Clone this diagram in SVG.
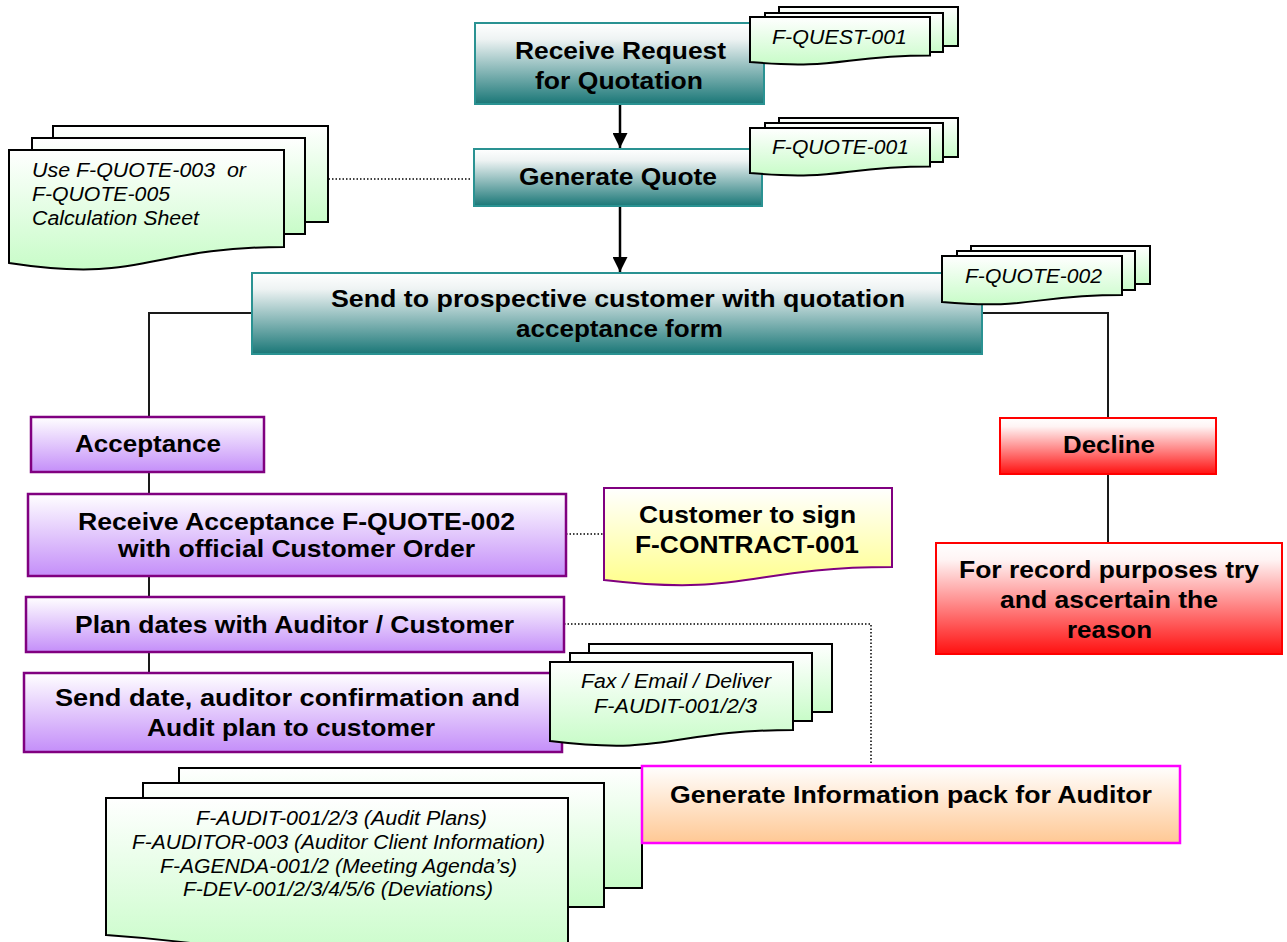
<svg xmlns="http://www.w3.org/2000/svg" width="1287" height="942" viewBox="0 0 1287 942">
<defs>
<linearGradient id="gTeal" x1="0" y1="0" x2="0" y2="1"><stop offset="0" stop-color="#ffffff"/><stop offset="0.2" stop-color="#eef3f3"/><stop offset="1" stop-color="#1a7777"/></linearGradient>
<linearGradient id="gPurple" x1="0" y1="0" x2="0" y2="1"><stop offset="0" stop-color="#ffffff"/><stop offset="1" stop-color="#c48ef9"/></linearGradient>
<linearGradient id="gGreen" x1="0" y1="0" x2="0" y2="1"><stop offset="0" stop-color="#ffffff"/><stop offset="1" stop-color="#c8fcc8"/></linearGradient>
<linearGradient id="gYellow" x1="0" y1="0" x2="0" y2="1"><stop offset="0" stop-color="#ffffff"/><stop offset="1" stop-color="#ffff8c"/></linearGradient>
<linearGradient id="gRed" x1="0" y1="0" x2="0" y2="1"><stop offset="0" stop-color="#ffffff"/><stop offset="0.15" stop-color="#fff4f4"/><stop offset="1" stop-color="#ff1010"/></linearGradient>
<linearGradient id="gPeach" x1="0" y1="0" x2="0" y2="1"><stop offset="0" stop-color="#ffffff"/><stop offset="1" stop-color="#ffc894"/></linearGradient>
<clipPath id="clipSend"><rect x="24" y="673" width="538" height="68"/></clipPath>
<marker id="arr" viewBox="0 0 10 10" refX="10" refY="5" markerWidth="15" markerHeight="15" markerUnits="userSpaceOnUse" orient="auto"><path d="M0,0 L10,5 L0,10 Z" fill="#000"/></marker>
</defs>
<style>
.teal{fill:url(#gTeal);stroke:#2a9292;stroke-width:2}
.purp{fill:url(#gPurple);stroke:#800080;stroke-width:2.5}
.red{fill:url(#gRed);stroke:#ff0000;stroke-width:2}
.peach{fill:url(#gPeach);stroke:#ff00ff;stroke-width:2.5}
.doc{fill:url(#gGreen);stroke:#000;stroke-width:2}
.ydoc{fill:url(#gYellow);stroke:#800080;stroke-width:2}
.b{font-family:"Liberation Sans",Arial,sans-serif;font-weight:bold;font-size:24px;fill:#000}
.i{font-family:"Liberation Sans",Arial,sans-serif;font-style:italic;font-size:19.5px;fill:#000;white-space:pre}
.ln{fill:none;stroke:#1a1a1a;stroke-width:2}
.dot{fill:none;stroke:#000;stroke-width:1.5;stroke-dasharray:1.5 2}
.ar{fill:none;stroke:#000;stroke-width:2.5}
</style>

<g id="connectors">
<line class="ar" x1="620" y1="104" x2="620" y2="148" marker-end="url(#arr)"/>
<line class="ar" x1="620" y1="206" x2="620" y2="272" marker-end="url(#arr)"/>
<polyline class="ln" points="252,313 149,313 149,417"/>
<polyline class="ln" points="982,313 1108,313 1108,418"/>
<line class="ln" x1="1108" y1="474" x2="1108" y2="543"/>
<line class="ln" x1="149" y1="472" x2="149" y2="494"/>
<line class="ln" x1="149" y1="576" x2="149" y2="597"/>
<line class="ln" x1="149" y1="652" x2="149" y2="673"/>
<line class="dot" x1="325" y1="179" x2="470" y2="179"/>
<line class="dot" x1="566" y1="534" x2="604" y2="534"/>
<polyline class="dot" points="564,624 871,624 871,766"/>
</g>

<g id="n-receive-request">
<rect class="teal" x="475" y="23" width="289" height="81"/>
<text class="b" x="515" y="59" textLength="211" lengthAdjust="spacingAndGlyphs">Receive Request</text>
<text class="b" x="535" y="89" textLength="168" lengthAdjust="spacingAndGlyphs">for Quotation</text>
</g>
<g id="d-quest-001">
<rect class="doc" x="779" y="7" width="179" height="39"/>
<rect class="doc" x="765" y="13" width="178" height="39"/>
<path class="doc" d="M750,17 H930 V55.5 C840,55.5 840,70 750,62 Z"/>
<text class="i" x="772" y="44" textLength="135" lengthAdjust="spacingAndGlyphs">F-QUEST-001</text>
</g>

<g id="n-generate-quote">
<rect class="teal" x="474" y="149" width="288" height="57"/>
<text class="b" x="519" y="185" textLength="198" lengthAdjust="spacingAndGlyphs">Generate Quote</text>
</g>
<g id="d-quote-001">
<rect class="doc" x="779" y="118" width="179" height="39"/>
<rect class="doc" x="765" y="123" width="178" height="39"/>
<path class="doc" d="M750,128 H930 V166.5 C840,166.5 840,181 750,173 Z"/>
<text class="i" x="772" y="154" textLength="137" lengthAdjust="spacingAndGlyphs">F-QUOTE-001</text>
</g>

<g id="d-calc-sheet">
<rect class="doc" x="53" y="126" width="275" height="96"/>
<rect class="doc" x="32" y="138" width="273" height="96"/>
<path class="doc" d="M9,150 H284 V247 C146,247 146,284 9,263 Z"/>
<text class="i" x="32" y="177" textLength="214" lengthAdjust="spacingAndGlyphs">Use F-QUOTE-003  or</text>
<text class="i" x="32" y="201" textLength="138" lengthAdjust="spacingAndGlyphs">F-QUOTE-005</text>
<text class="i" x="32" y="225" textLength="167" lengthAdjust="spacingAndGlyphs">Calculation Sheet</text>
</g>

<g id="n-send-prospective">
<rect class="teal" x="252" y="273" width="730" height="81"/>
<text class="b" x="331" y="307" textLength="574" lengthAdjust="spacingAndGlyphs">Send to prospective customer with quotation</text>
<text class="b" x="516" y="337" textLength="207" lengthAdjust="spacingAndGlyphs">acceptance form</text>
</g>
<g id="d-quote-002">
<rect class="doc" x="971" y="246" width="179" height="38"/>
<rect class="doc" x="957" y="251" width="178" height="39"/>
<path class="doc" d="M942,256 H1122 V295 C1032,295 1032,310 942,302 Z"/>
<text class="i" x="965" y="283" textLength="137" lengthAdjust="spacingAndGlyphs">F-QUOTE-002</text>
</g>

<g id="n-acceptance">
<rect class="purp" x="31" y="417" width="233" height="55"/>
<text class="b" x="75" y="452" textLength="146" lengthAdjust="spacingAndGlyphs">Acceptance</text>
</g>

<g id="n-receive-acceptance">
<rect class="purp" x="28" y="494" width="538" height="82"/>
<text class="b" x="78" y="530" textLength="437" lengthAdjust="spacingAndGlyphs">Receive Acceptance F-QUOTE-002</text>
<text class="b" x="118" y="557" textLength="357" lengthAdjust="spacingAndGlyphs">with official Customer Order</text>
</g>

<g id="d-contract">
<path class="ydoc" d="M604,488 H892 V567 C748,567 748,597 604,580 Z"/>
<text class="b" x="639" y="523" textLength="217" lengthAdjust="spacingAndGlyphs">Customer to sign</text>
<text class="b" x="635" y="553" textLength="224" lengthAdjust="spacingAndGlyphs">F-CONTRACT-001</text>
</g>

<g id="n-plan-dates">
<rect class="purp" x="26" y="597" width="538" height="55"/>
<text class="b" x="75" y="633" textLength="439" lengthAdjust="spacingAndGlyphs">Plan dates with Auditor / Customer</text>
</g>

<g id="n-send-date">
<rect class="purp" x="24" y="673" width="538" height="79"/>
<g clip-path="url(#clipSend)">
<text class="b" x="55" y="706" textLength="465" lengthAdjust="spacingAndGlyphs">Send date, auditor confirmation and</text>
<text class="b" x="147" y="736" textLength="288" lengthAdjust="spacingAndGlyphs">Audit plan to customer</text>
</g>
</g>
<g id="d-fax">
<rect class="doc" x="589" y="644" width="243" height="68"/>
<rect class="doc" x="570" y="653" width="242" height="68"/>
<path class="doc" d="M550,662 H793 V730 C671,730 671,756 550,741 Z"/>
<text class="i" x="581" y="688" textLength="190" lengthAdjust="spacingAndGlyphs">Fax / Email / Deliver</text>
<text class="i" x="594" y="713" textLength="163" lengthAdjust="spacingAndGlyphs">F-AUDIT-001/2/3</text>
</g>

<g id="d-info-pack">
<rect class="doc" x="179" y="768" width="463" height="120"/>
<rect class="doc" x="143" y="783" width="461" height="124"/>
<path class="doc" d="M106,798 H568 V960 H300 C220,945 150,938 106,935 Z"/>
<text class="i" x="196" y="825" textLength="291" lengthAdjust="spacingAndGlyphs">F-AUDIT-001/2/3 (Audit Plans)</text>
<text class="i" x="132" y="849" textLength="413" lengthAdjust="spacingAndGlyphs">F-AUDITOR-003 (Auditor Client Information)</text>
<text class="i" x="160" y="873" textLength="357" lengthAdjust="spacingAndGlyphs">F-AGENDA-001/2 (Meeting Agenda’s)</text>
<text class="i" x="183" y="896" textLength="310" lengthAdjust="spacingAndGlyphs">F-DEV-001/2/3/4/5/6 (Deviations)</text>
</g>

<g id="n-generate-info">
<rect class="peach" x="642" y="766" width="538" height="77"/>
<text class="b" x="670" y="803" textLength="482" lengthAdjust="spacingAndGlyphs">Generate Information pack for Auditor</text>
</g>

<g id="n-decline">
<rect class="red" x="1000" y="418" width="216" height="56"/>
<text class="b" x="1063" y="453" textLength="92" lengthAdjust="spacingAndGlyphs">Decline</text>
</g>

<g id="n-record">
<rect class="red" x="936" y="543" width="346" height="111"/>
<text class="b" x="959" y="578" textLength="300" lengthAdjust="spacingAndGlyphs">For record purposes try</text>
<text class="b" x="1000" y="608" textLength="218" lengthAdjust="spacingAndGlyphs">and ascertain the</text>
<text class="b" x="1067" y="638" textLength="85" lengthAdjust="spacingAndGlyphs">reason</text>
</g>
</svg>
